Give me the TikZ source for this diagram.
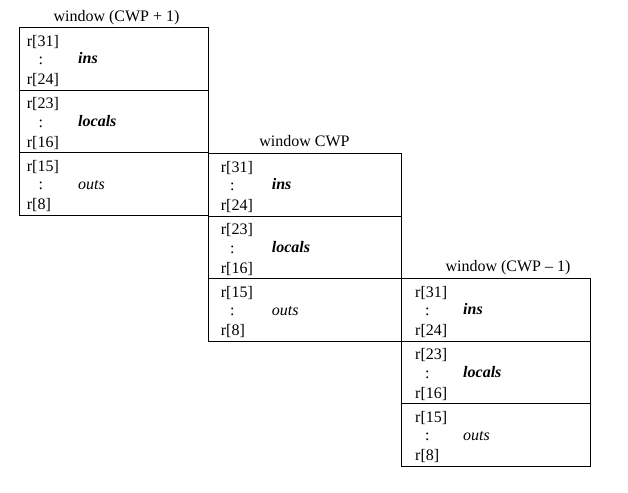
\documentclass[tikz,border=0pt]{standalone}
\usepackage{fontspec}
\setmainfont{Liberation Serif}
\begin{document}
\begin{tikzpicture}[x=1pt,y=-1pt,
  every node/.style={font=\fontsize{16}{19}\selectfont, inner sep=0pt},
  reg/.style={anchor=base west},
  lbl/.style={anchor=base west, font=\fontsize{16}{19}\selectfont\itshape},
  ttl/.style={anchor=base},
  box/.style={draw, line width=1pt}]
\useasboundingbox (0,0) rectangle (628,492);
\foreach \w/\L/\R/\T/\rx/\cx/\lx/\tx/\ty/\title in {
  1/19.3/208.5/27.3/26.7/38.3/78/116.5/22/{window (CWP + 1)},
  2/208.5/401.3/153.3/220.7/230/271.7/304.5/146.7/{window CWP},
  3/401.3/590.7/278.3/415/425/463/508/271.7/{window (CWP – 1)}}{
  \node[ttl] (t\w) at (\tx,\ty) {\title};
  \foreach \s/\a/\b/\name in {0/31/24/{\bfseries ins}, 1/23/16/{\bfseries locals}, 2/15/8/outs}{
    \pgfmathsetmacro\tp{\T+\s*62.8}
    \draw[box] (\L,\tp) rectangle (\R,\tp+62.8);
    \node[reg] (w\w-r\a) at (\rx,\tp+18.8) {r[\a]};
    \node[reg] (w\w-c\s) at (\cx,\tp+37) {:};
    \node[lbl] (w\w-l\s) at (\lx,\tp+36.5) {\name};
    \node[reg] (w\w-r\b) at (\rx,\tp+57) {r[\b]};
  }
}
\end{tikzpicture}
\end{document}
